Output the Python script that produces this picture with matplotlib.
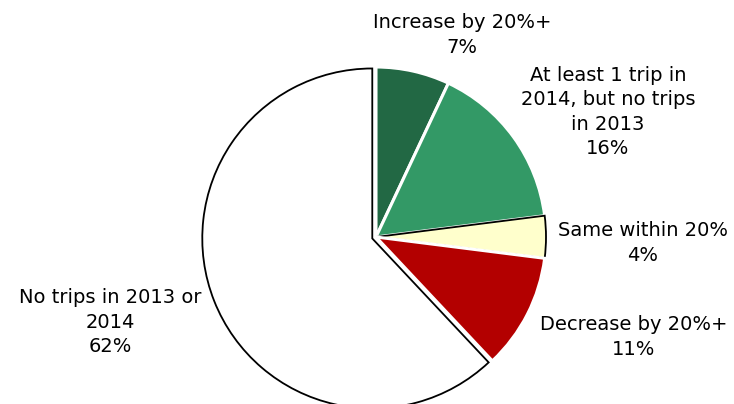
import matplotlib
matplotlib.use("Agg")
import matplotlib.pyplot as plt

# slices, clockwise from 12 o'clock
labels = ["Increase by 20%+", "At least 1 trip in\n2014, but no trips\nin 2013",
          "Same within 20%", "Decrease by 20%+", "No trips in 2013 or\n2014"]
shares = [7, 16, 4, 11, 62]
colors = ["#226844", "#339966", "#FFFFCC", "#B30000", "#FFFFFF"]
edges = ["white", "white", "black", "white", "black"]
pulled = [0, 0, 0, 0, 4]   # only the big white slice is pulled out (px)

# label anchor points (pixels, from top-left)
label_pos = [(462, 35), (608, 112), (643, 243), (634, 337), (110, 322)]

W, H = 734, 404
fig = plt.figure(figsize=(W / 100, H / 100), dpi=100)
ax = fig.add_axes([0, 0, 1, 1])

# axes are in pixel units, so explode is an offset in pixels
wedges, _ = ax.pie(shares, colors=colors, startangle=90, counterclock=False,
                   center=(376, H - 237), radius=170, explode=pulled)
for w, ec in zip(wedges, edges):
    w.set_edgecolor(ec)
    w.set_linewidth(1.3 if ec == "black" else 2.2)

for lab, val, (x, y) in zip(labels, shares, label_pos):
    ax.text(x, H - y, f"{lab}\n{val}%", ha="center", va="center",
            fontsize=14, linespacing=1.35, color="black")

ax.set_xlim(0, W)
ax.set_ylim(0, H)
ax.set_aspect("equal")
ax.axis("off")

fig.savefig("out.png", dpi=100, facecolor="white")
